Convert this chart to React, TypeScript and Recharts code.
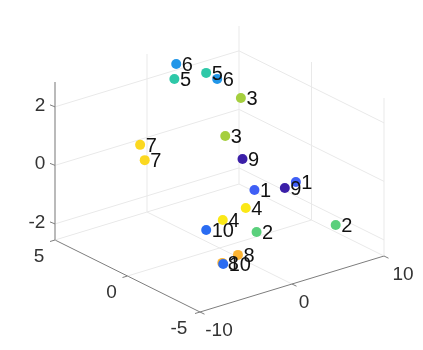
import { ScatterChart, Scatter, XAxis, YAxis, ReferenceLine, ReferenceDot, LabelList } from 'recharts';

const labels = ['6', '5', '5', '6', '3', '3', '9', '7', '7', '1', '1', '9', '2', '2', '4', '4', '10', '8', '8', '10'];
const xs = [1.6, 1.4, 1.7, 2.9, 3.9, 2.2, 2.5, -3.9, -3.4, 3.8, 8.3, 7.1, 7.9, -0.7, -0.3, -2.8, -4.6, -4.3, -6.0, -5.9];
const ys = [4, 4, 2, 2, 1, 1, 0, 3, 3, 0, 0, 0, -3, -3, -2, -2, -2, -4, -4, -4];
const zs = [2.6, 2.11, 2.78, 2.46, 1.96, 0.82, 0.25, 0.61, 0.04, -0.93, -1.09, -1.18, -1.78, -1.2, -0.66, -0.83, -1.0, -1.39, -1.5, -1.55];

const xTicks = [-10, 0, 10];
const yTicks = [-5, 0, 5];
const zTicks = [-2, 0, 2];
const zMin = -2.55;
const zMax = 2.85;

const COLORS: Record<string, string> = {
  '1': '#3f5ff5',
  '2': '#5ad07c',
  '3': '#a5cf3e',
  '4': '#fbe817',
  '5': '#2ec8a8',
  '6': '#2196e8',
  '7': '#fbd820',
  '8': '#fdb432',
  '9': '#3b1fa8',
  '10': '#2a6cf2',
};

const WIDTH = 423;
const HEIGHT = 350;
const GRID = '#e9e9e9';
const AXIS = '#7d7d7d';

// fixed MATLAB-style 3d view flattened onto the page plane
function project(x: number, y: number, z: number) {
  return {
    x: 55 + 9.2 * (x + 10) - 14.5 * (y - 5),
    y: 240 - 2.8 * (x + 10) - 7.2 * (y - 5) - 29.26 * (z - zMin),
  };
}

const points = labels.map((label, i) => ({ ...project(xs[i], ys[i], zs[i]), label }));

function Seg(from: { x: number; y: number }, to: { x: number; y: number }, stroke: string, key: string, width = 1) {
  return (
    <ReferenceLine
      key={key}
      segment={[from, to]}
      stroke={stroke}
      strokeWidth={width}
      ifOverflow="visible"
    />
  );
}

function shift(p: { x: number; y: number }, dx: number, dy: number) {
  return { x: p.x + dx, y: p.y + dy };
}

function TickLabel(p: { x: number; y: number }, text: number, key: string) {
  return (
    <ReferenceDot
      key={key}
      x={p.x}
      y={p.y}
      r={0}
      ifOverflow="visible"
      label={{ value: String(text), position: 'center', fontSize: 19, fill: '#333333' }}
    />
  );
}

const Dot = (props: any) => (
  <circle cx={props.cx} cy={props.cy} r={5} fill={COLORS[props.payload.label]} />
);

export default function App() {
  return (
    <div style={{ position: 'absolute', left: 0, top: 0, fontFamily: '"Liberation Sans", Arial, sans-serif', filter: 'blur(0.35px)' }}>
      <ScatterChart width={WIDTH} height={HEIGHT} margin={{ top: 0, right: 0, bottom: 0, left: 0 }}>
        <XAxis type="number" dataKey="x" domain={[0, WIDTH]} hide />
        <YAxis type="number" dataKey="y" domain={[0, HEIGHT]} reversed hide />

        {/* floor grid */}
        {xTicks.map((t) => Seg(project(t, -5, zMin), project(t, 5, zMin), t === -10 ? AXIS : GRID, `fx${t}`))}
        {yTicks.map((t) => Seg(project(-10, t, zMin), project(10, t, zMin), t === -5 ? AXIS : GRID, `fy${t}`))}

        {/* back walls */}
        {xTicks.slice(1).map((t) => Seg(project(t, 5, zMin), project(t, 5, zMax), GRID, `wx${t}`))}
        {yTicks.slice(0, 2).map((t) => Seg(project(10, t, zMin), project(10, t, zMax), GRID, `wy${t}`))}
        {zTicks.map((t) => Seg(project(-10, 5, t), project(10, 5, t), GRID, `za${t}`))}
        {zTicks.map((t) => Seg(project(10, 5, t), project(10, -5, t), GRID, `zb${t}`))}

        {/* axis lines and ticks */}
        {Seg(project(-10, 5, zMin), project(-10, 5, zMax), '#a3a3a3', 'zaxis', 1.5)}
        {zTicks.map((t) => Seg(project(-10, 5, t), shift(project(-10, 5, t), -5, -2), AXIS, `tz${t}`))}
        {yTicks.map((t) => Seg(project(-10, t, zMin), shift(project(-10, t, zMin), -5, 1.5), AXIS, `ty${t}`))}
        {xTicks.map((t) => Seg(project(t, -5, zMin), shift(project(t, -5, zMin), 4.5, 2.2), AXIS, `tx${t}`))}

        {zTicks.map((t) => TickLabel(shift(project(-10, 5, t), t < 0 ? -18 : -15, -3), t, `lz${t}`))}
        {yTicks.map((t) => TickLabel(shift(project(-10, t, zMin), t < 0 ? -21 : -16, 15), t, `ly${t}`))}
        {xTicks.map((t) => TickLabel(shift(project(t, -5, zMin), t === 0 ? 12 : 19, 17), t, `lx${t}`))}

        <Scatter data={points} shape={Dot} isAnimationActive={false}>
          <LabelList dataKey="label" position="right" offset={1} fontSize={20} fill="#111111" />
        </Scatter>
      </ScatterChart>
    </div>
  );
}
